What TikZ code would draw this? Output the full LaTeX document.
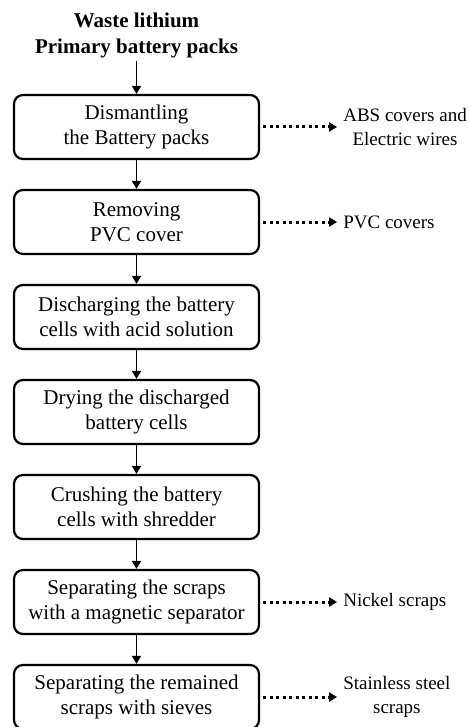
\documentclass[tikz,border=0pt]{standalone}
\usepackage{fontspec}
\setmainfont{Liberation Serif}
\usetikzlibrary{arrows.meta,positioning}

\begin{document}
\begin{tikzpicture}[x=1pt,y=1pt,>={Triangle[width=9pt,length=8pt]},node distance=28.8pt,every node/.style={align=center},
  stepbox/.style={draw,line width=2.2pt,rounded corners=9pt,minimum width=245pt,minimum height=64pt,inner sep=0pt,font=\fontsize{21}{25}\selectfont},
  outbox/.style={inner sep=0pt,font=\fontsize{19}{24}\selectfont},
  flow/.style={->,line width=1.7pt},
  waste/.style={->,line width=3pt,dash pattern=on 3pt off 3.5pt,shorten <=3pt,shorten >=6pt}]
  \useasboundingbox (0,0) rectangle (470,-727);
  \node[stepbox] (dis) at (136.5,-127) {Dismantling\\the Battery packs};
  \node[stepbox,below=of dis] (rem) {Removing\\PVC cover};
  \node[stepbox,below=of rem] (dch) {Discharging the battery\\cells with acid solution};
  \node[stepbox,below=of dch] (dry) {Drying the discharged\\battery cells};
  \node[stepbox,below=of dry] (cru) {Crushing the battery\\cells with shredder};
  \node[stepbox,below=of cru] (mag) {Separating the scraps\\with a magnetic separator};
  \node[stepbox,below=of mag] (sie) {Separating the remained\\scraps with sieves};
  \node[inner sep=0pt,font=\fontsize{21}{26}\selectfont\bfseries,above=36pt of dis] (src) {Waste lithium\\Primary battery packs};
  \node[outbox,right=83pt of dis] (abs) {ABS covers and\\Electric wires};
  \node[outbox,right=83pt of rem] (pvc) {PVC covers};
  \node[outbox,right=83pt of mag] (ni) {Nickel scraps};
  \node[outbox,right=83pt of sie] (ss) {Stainless steel\\scraps};
  \draw[flow,shorten <=3pt](src)--(dis);
  \draw[flow](dis)--(rem);\draw[flow](rem)--(dch);\draw[flow](dch)--(dry);
  \draw[flow](dry)--(cru);\draw[flow](cru)--(mag);\draw[flow](mag)--(sie);
  \draw[waste](dis)--(abs);\draw[waste](rem)--(pvc);
  \draw[waste](mag)--(ni);\draw[waste](sie)--(ss);
\end{tikzpicture}
\end{document}
